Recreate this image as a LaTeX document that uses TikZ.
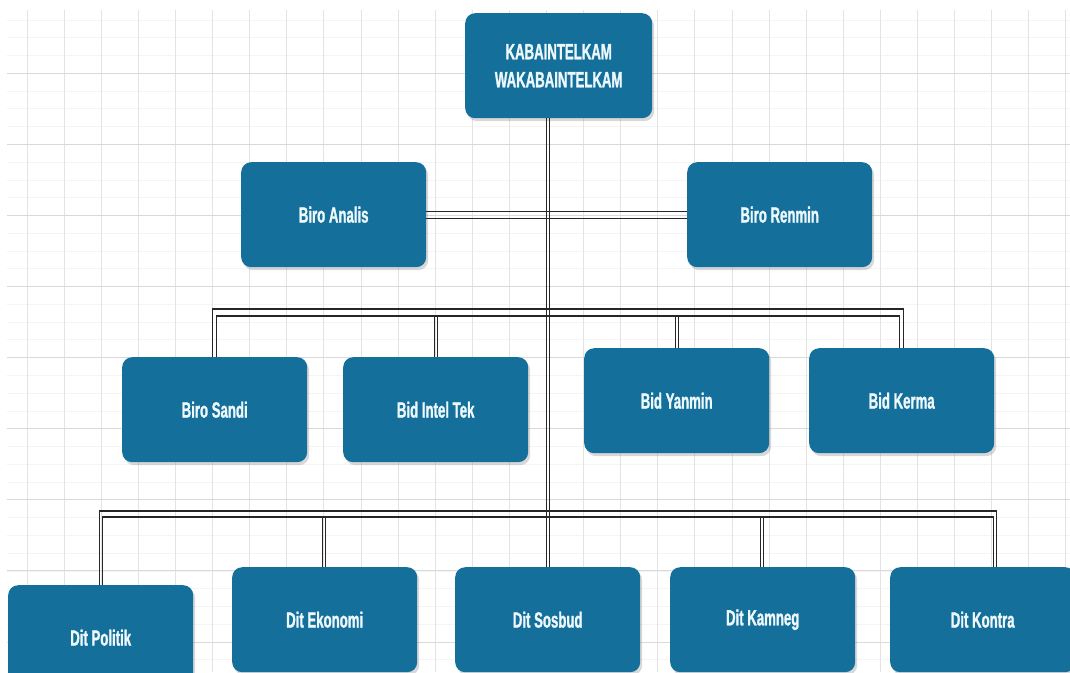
\documentclass[tikz,border=0pt]{standalone}
\usepackage{fontspec}
\newfontfamily\boxfont[FakeStretch=0.6,FakeBold=1.2]{Liberation Sans Bold}
\usetikzlibrary{shadows,calc}
\definecolor{boxblue}{RGB}{21,111,155}
\definecolor{boxtext}{RGB}{236,248,251}
\tikzset{
  orgbox/.style={rounded corners=10pt, fill=boxblue, text=boxtext,
    font=\boxfont\fontsize{22}{29}\selectfont, align=center,
    minimum width=185pt, minimum height=105pt, inner sep=0pt, anchor=north west,
    drop shadow={opacity=0.3, shadow xshift=2pt, shadow yshift=-3pt}},
  conn/.style={draw=black!85, line width=1.2pt},
  gridv/.style={draw=gray!22, line width=0.7pt},
  gridh/.style={draw=gray!30, line width=0.8pt},
  gridm/.style={draw=gray!9, line width=0.5pt}
}
\begin{document}
\begin{tikzpicture}[x=1pt, y=-1pt]
\useasboundingbox (0,0) rectangle (1070,672);
\clip (0,0) rectangle (1070,672);
\fill[white] (0,0) rectangle (1070,672);
% grid
\foreach \j in {1,...,37} \draw[gridm] (7,{2+17.775*\j}) -- (1070,{2+17.775*\j});
\foreach \i in {0,...,28} \draw[gridv] ({27+37.1*\i},10) -- ({27+37.1*\i},672);
\foreach \j in {1,...,9} \draw[gridh] (7,{2+71.1*\j}) -- (1070,{2+71.1*\j});

% nodes
\node[orgbox, minimum width=187pt] (top) at (465,13) {KABAINTELKAM\\[-1pt]WAKABAINTELKAM};
\node[orgbox] (analis) at (241,162) {Biro Analis};
\node[orgbox] (renmin) at (687,162) {Biro Renmin};
\node[orgbox] (sandi) at (122,357) {Biro Sandi};
\node[orgbox] (intel) at (343,357) {Bid Intel Tek};
\node[orgbox] (yanmin) at (584,348) {Bid Yanmin};
\node[orgbox] (kerma) at (809,348) {Bid Kerma};
\node[orgbox] (politik) at (8,585) {Dit Politik};
\node[orgbox] (ekonomi) at (232,567) {Dit Ekonomi};
\node[orgbox] (sosbud) at (455,567) {Dit Sosbud};
\node[orgbox] (kamneg) at (670,567) {Dit Kamneg};
\node[orgbox] (kontra) at (890,567) {Dit Kontra};

\coordinate (b2) at (0,309);
\coordinate (b2i) at (0,316);
\coordinate (b3) at (0,511);
\coordinate (b3i) at (0,517);

% level 1
\draw[conn] ($(analis.east)+(0,-3.5)$) -- ($(renmin.west)+(0,-3.5)$);
\draw[conn] ($(analis.east)+(0,3.5)$) -- ($(renmin.west)+(0,3.5)$);

% level 2 bus
\draw[conn] ($(sandi.north)+(-2,0)$) |- ($(kerma.north |- b2)+(2,0)$) -- ($(kerma.north)+(2,0)$);
\draw[conn] ($(sandi.north)+(2,0)$) |- ($(kerma.north |- b2i)+(-2,0)$) -- ($(kerma.north)+(-2,0)$);
\foreach \n in {intel,yanmin}{
  \draw[conn] ($(\n.north)+(-1.5,0)$) -- ($(\n.north |- b2i)+(-1.5,0)$);
  \draw[conn] ($(\n.north)+(1.5,0)$) -- ($(\n.north |- b2i)+(1.5,0)$);
}

% level 3 bus
\draw[conn] ($(politik.north)+(-1.5,0)$) |- ($(kontra.north |- b3)+(13.5,0)$) -- ($(kontra.north)+(13.5,0)$);
\draw[conn] ($(politik.north)+(1.5,0)$) |- ($(kontra.north |- b3i)+(10.5,0)$) -- ($(kontra.north)+(10.5,0)$);
\foreach \n in {ekonomi,kamneg}{
  \draw[conn] ($(\n.north)+(-2.5,0)$) -- ($(\n.north |- b3i)+(-2.5,0)$);
  \draw[conn] ($(\n.north)+(0.5,0)$) -- ($(\n.north |- b3i)+(0.5,0)$);
}

% spine
\draw[conn] ($(top.south -| sosbud.north)+(-1.5,0)$) -- ($(sosbud.north)+(-1.5,0)$);
\draw[conn] ($(top.south -| sosbud.north)+(1.5,0)$) -- ($(sosbud.north)+(1.5,0)$);
\end{tikzpicture}
\end{document}
